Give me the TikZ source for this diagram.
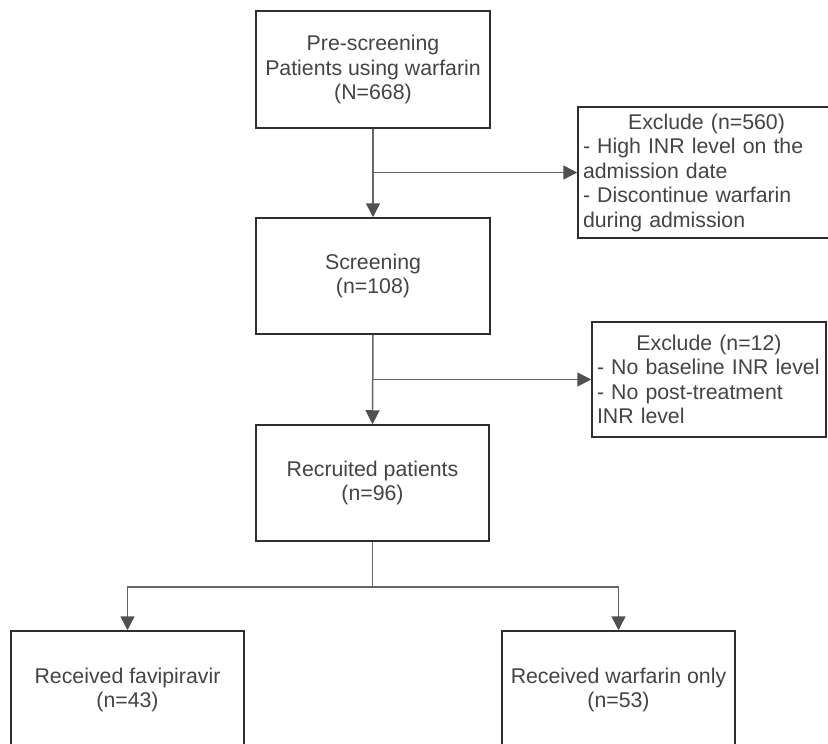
\documentclass[tikz,border=0pt]{standalone}
\usepackage{fontspec}
\setmainfont{Liberation Sans}
\usetikzlibrary{arrows.meta}
\definecolor{linec}{HTML}{666666}
\definecolor{headc}{HTML}{505050}
\definecolor{boxc}{HTML}{2E2E2E}
\definecolor{txtc}{HTML}{444444}
\begin{document}
\begin{tikzpicture}[x=1pt,y=-1pt,
  txt/.style={text=txtc, font=\fontsize{21.3}{24.5}\selectfont},
  box/.style={txt, draw=boxc, line width=1.5pt, minimum width=234pt, minimum height=117pt, inner sep=0pt, align=center},
  exbox/.style={txt, draw=boxc, line width=1.5pt, inner xsep=5pt, inner ysep=0pt, align=left},
  link/.style={draw=linec, line width=1.5pt},
  arr/.style={link, -{Triangle[length=14pt,width=14pt,color=headc]}}]
\useasboundingbox (0,0) rectangle (828,744);
\clip (0,0) rectangle (828,744);
\fill[white] (0,0) rectangle (828,744);
% main boxes
\node[box] (pre) at (373,69.5) {Pre-screening\\Patients using warfarin\\(N=668)};
\node[box, minimum height=116pt] (scr) at (373,276) {Screening\\(n=108)};
\node[box, minimum width=233pt, minimum height=116pt] (rec) at (372.5,483) {Recruited patients\\(n=96)};
\node[box, minimum width=233pt, minimum height=118pt] (fav) at (127.5,690) {Received favipiravir\\(n=43)};
\node[box, minimum width=233pt, minimum height=118pt] (war) at (618.5,690) {Received warfarin only\\(n=53)};
% exclusion boxes
\node[exbox, minimum width=257pt, text width=247pt, minimum height=131pt] (ex1) at (706.5,172.5)
  {\makebox[\linewidth]{Exclude (n=560)}\\- High INR level on the\\admission date\\- Discontinue warfarin\\during admission};
\node[exbox, minimum width=234pt, text width=224pt, minimum height=115pt] (ex2) at (709,379.5)
  {\makebox[\linewidth]{Exclude (n=12)}\\- No baseline INR level\\- No post-treatment\\INR level};
% junctions
\coordinate (j1) at (373,172.5);
\coordinate (j2) at (373,379.5);
\coordinate (split) at (372.5,587);
% connectors
\draw[arr] (pre.south) -- (scr.north);
\draw[arr] (j1) -- (ex1.west);
\draw[arr] (scr.south) -- (rec.north);
\draw[arr] (j2) -- (ex2.west);
\draw[link] (rec.south) -- (split);
\draw[arr] (split) -| (fav.north);
\draw[arr] (split) -| (war.north);
\end{tikzpicture}
\end{document}
